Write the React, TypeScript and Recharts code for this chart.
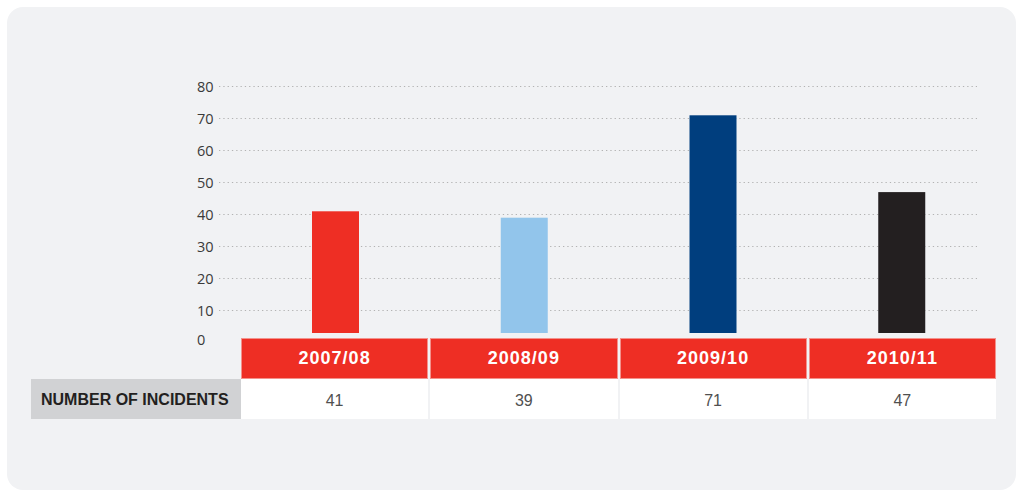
import { BarChart, Bar, XAxis, YAxis, CartesianGrid, Cell } from 'recharts';

// Reporting years, incident counts and bar colours
const years = ['2007/08', '2008/09', '2009/10', '2010/11'];
const incidents = [41, 39, 71, 47];
const barColors = ['#ee2e24', '#92c5eb', '#003e7e', '#231f20'];
const yTicks = [0, 10, 20, 30, 40, 50, 60, 70, 80];
const gridValues = [10, 20, 30, 40, 50, 60, 70, 80];

const chartData = years.map((year, i) => ({ year, incidents: incidents[i] }));

const PANEL_BG = '#f1f2f4';
const FONT = '"Liberation Sans", Arial, sans-serif';

// bars in the original stop a little short of the zero line
const TrimmedBar = (props: any) => {
  const { x, y, width, height, fill } = props;
  const h = Math.max(0, height - 9.5);
  return <rect x={x} y={y} width={width} height={h} fill={fill} />;
};

const YTick = (props: any) => {
  const { y, payload } = props;
  const dy = payload.value === 0 ? 2 : 5;
  return (
    <text x={197} y={y} dy={dy} fill="#3a3a3a" fontSize={14.5} fontFamily='"Open Sans", sans-serif' textAnchor="start">
      {payload.value}
    </text>
  );
};

const headerCell: React.CSSProperties = {
  background: '#ee2e24',
  border: '1px solid #f3928c',
  color: '#fff',
  fontWeight: 700,
  fontSize: 18,
  letterSpacing: 1,
  display: 'flex',
  alignItems: 'center',
  justifyContent: 'center',
  boxSizing: 'border-box',
};

const valueCell: React.CSSProperties = {
  background: '#fff',
  color: '#505050',
  fontSize: 16,
  display: 'flex',
  alignItems: 'center',
  justifyContent: 'center',
  paddingTop: 3,
  boxSizing: 'border-box',
};

export default function App() {
  return (
    <div style={{ position: 'absolute', left: 0, top: 0, width: 1020, height: 491, overflow: 'hidden', fontFamily: FONT }}>
      <div style={{ position: 'absolute', left: 7, top: 7, width: 1009, height: 483, background: PANEL_BG, borderRadius: 16 }} />
      <div style={{ position: 'absolute', left: 0, top: 0 }}>
        <BarChart
          width={1020}
          height={491}
          data={chartData}
          margin={{ top: 86.5, right: 24, bottom: 148.5, left: 197 }}
          barCategoryGap={0}
        >
          <CartesianGrid
            vertical={false}
            horizontalValues={gridValues}
            x={219}
            width={758}
            stroke="#b3b3b3"
            strokeWidth={1.2}
            strokeDasharray="1.3 3"
          />
          <XAxis dataKey="year" hide />
          <YAxis
            domain={[0, 80]}
            ticks={yTicks}
            width={44}
            axisLine={false}
            tickLine={false}
            tick={<YTick />}
            interval={0}
          />
          <Bar dataKey="incidents" barSize={47} isAnimationActive={false} shape={<TrimmedBar />}>
            {chartData.map((d, i) => (
              <Cell key={d.year} fill={barColors[i]} />
            ))}
          </Bar>
        </BarChart>
      </div>
      <div
        style={{
          position: 'absolute',
          left: 31,
          top: 338,
          display: 'grid',
          gridTemplateColumns: '208px repeat(4, 187.25px)',
          gridTemplateRows: '40.5px 40px',
          columnGap: 2,
          rowGap: 0.5,
        }}
      >
        <div />
        {years.map((y) => (
          <div key={y} style={headerCell}>{y}</div>
        ))}
        <div
          style={{
            background: '#d1d2d4',
            color: '#231f20',
            fontWeight: 700,
            fontSize: 16,
            display: 'flex',
            alignItems: 'center',
            paddingLeft: 10,
            paddingTop: 2,
            marginRight: -2,
          }}
        >
          NUMBER OF INCIDENTS
        </div>
        {incidents.map((v, i) => (
          <div key={years[i]} style={valueCell}>{v}</div>
        ))}
      </div>
    </div>
  );
}
